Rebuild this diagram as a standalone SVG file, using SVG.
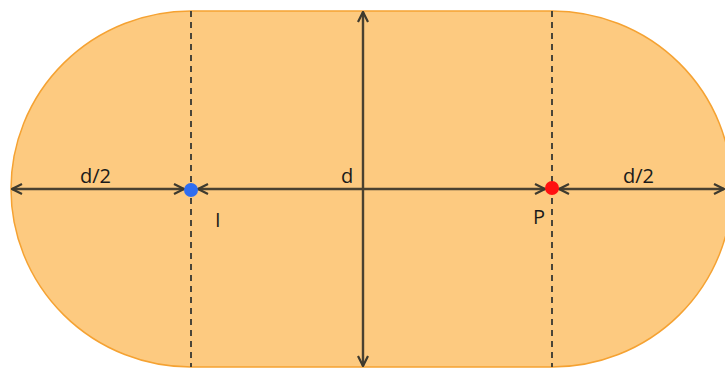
<svg xmlns="http://www.w3.org/2000/svg" width="725" height="369" viewBox="0 0 725 369">
  <defs>
    <marker id="arr" viewBox="0 0 12 12" refX="11" refY="6" markerWidth="12" markerHeight="12" markerUnits="userSpaceOnUse" orient="auto-start-reverse">
      <path d="M1,1 L11,6 L1,11" fill="none" stroke="#3e3a2e" stroke-width="2.2"/>
    </marker>
    <style>
      .shape { fill: #fdca80; stroke: #f5a232; stroke-width: 1.5; }
      .dash { stroke: #4a4538; stroke-width: 2; stroke-dasharray: 6 5; fill: none; }
      .dim { stroke: #4a4130; stroke-width: 2.4; fill: none; marker-start: url(#arr); marker-end: url(#arr); }
      .lbl { font-family: "Open Sans", "Liberation Sans", sans-serif; font-size: 20px; fill: #1a1a1a; }
    </style>
  </defs>
  <rect width="725" height="369" fill="#ffffff"/>
  <g id="stadium">
    <path class="shape" d="M191,11 L552,11 A180,178 0 0 1 552,367 L191,367 A180,178 0 0 1 191,11 Z"/>
  </g>
  <g id="connectors">
    <line class="dash" x1="191" y1="11" x2="191" y2="367"/>
    <line class="dash" x1="552" y1="11" x2="552" y2="367"/>
    <line class="dim" x1="12" y1="189" x2="184" y2="189"/>
    <line class="dim" x1="198" y1="189" x2="545" y2="189"/>
    <line class="dim" x1="559" y1="189" x2="724" y2="189"/>
    <line class="dim" x1="363" y1="12" x2="363" y2="366"/>
  </g>
  <g id="point-I">
    <circle cx="191" cy="190" r="7" fill="#2f6df0"/>
    <text class="lbl" x="215" y="227">I</text>
  </g>
  <g id="point-P">
    <circle cx="552" cy="188" r="7" fill="#ff1010"/>
    <text class="lbl" x="533" y="224">P</text>
  </g>
  <g id="labels">
    <text class="lbl" x="80" y="183">d/2</text>
    <text class="lbl" x="341" y="183">d</text>
    <text class="lbl" x="623" y="183">d/2</text>
  </g>
</svg>
